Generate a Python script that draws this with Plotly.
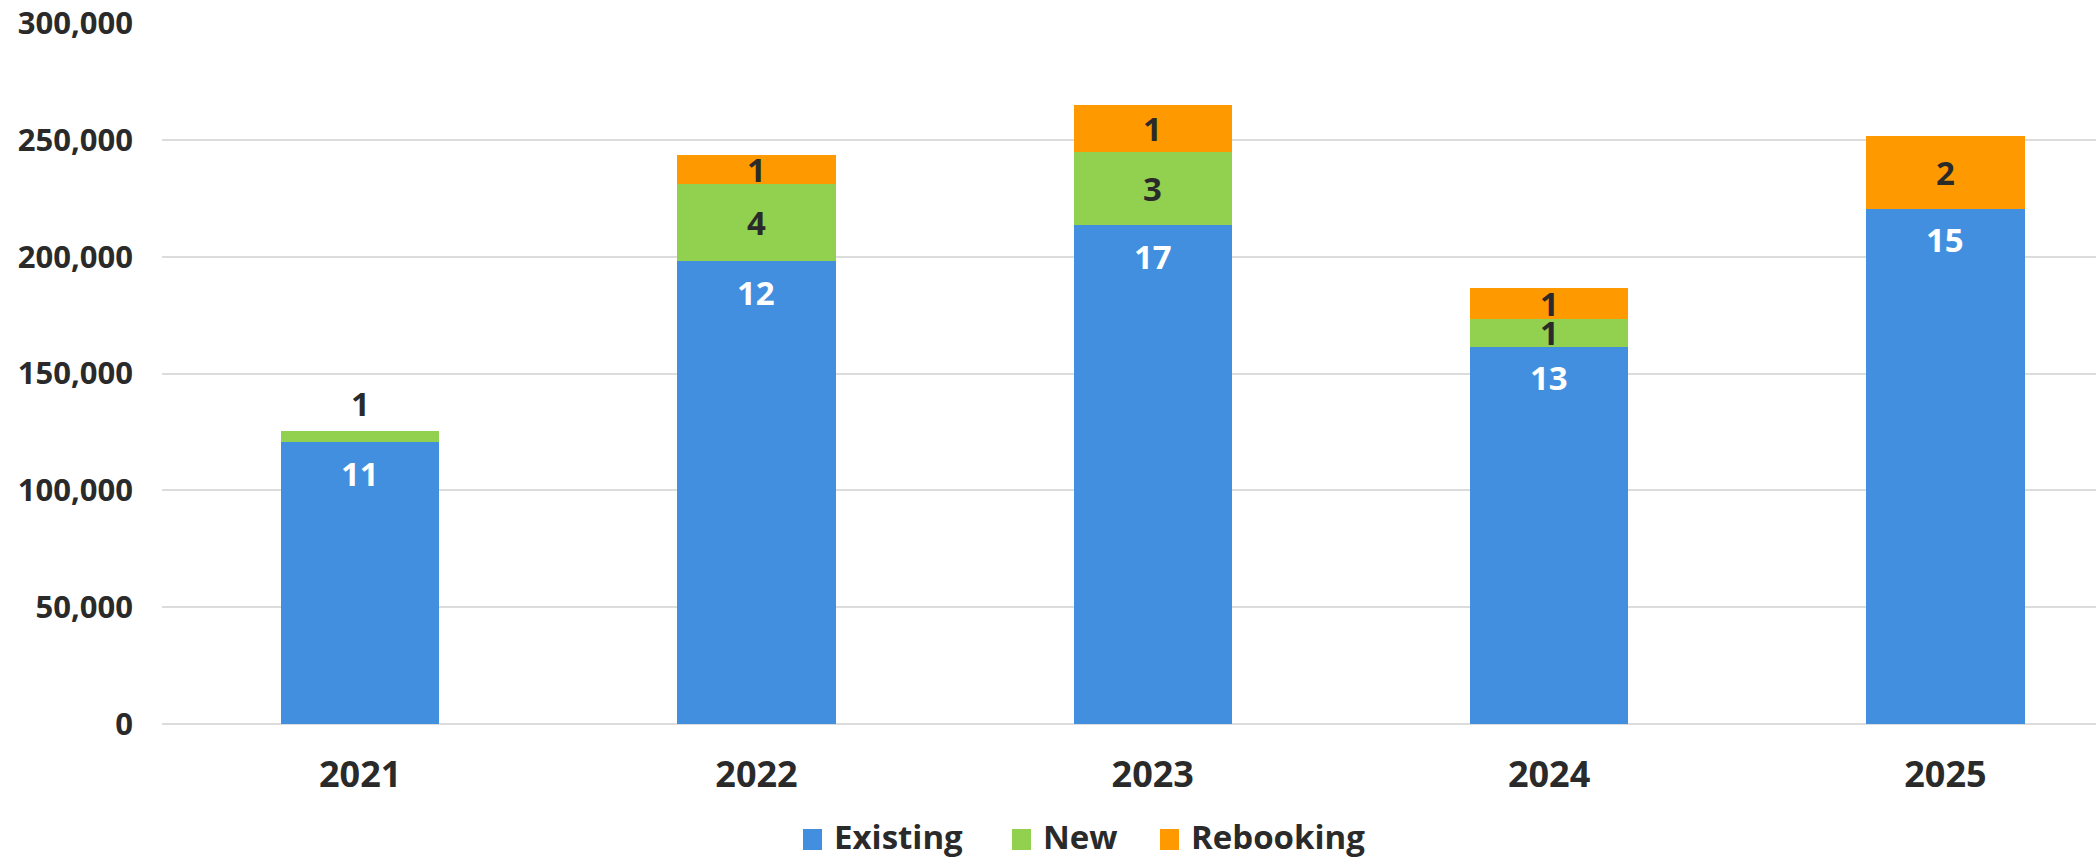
import plotly.graph_objects as go

# Bookings value per year, split by customer type
years = ["2021", "2022", "2023", "2024", "2025"]
existing = [120500, 198000, 213500, 161500, 220500]
new = [5000, 33000, 31500, 12000, 0]
rebooking = [0, 12500, 20000, 13000, 31000]

# Number of deals behind each segment (shown as segment labels)
existing_count = [11, 12, 17, 13, 15]
new_count = [1, 4, 3, 1, None]
rebooking_count = [None, 1, 1, 1, 2]

series_names = ["Existing", "New", "Rebooking"]
series_colors = ["#418FDE", "#92D050", "#FF9900"]

y_ticks = list(range(0, 300001, 50000))

FONT = "Open Sans"
TEXT_DARK = "#2A2A2A"

W, H = 2096, 860
M_L, M_R, M_T, M_B = 162, 0, 23, 136
PLOT_W = W - M_L - M_R
PLOT_H = H - M_T - M_B

fig = go.Figure()
for name, vals, color in zip(series_names, [existing, new, rebooking], series_colors):
    fig.add_trace(go.Bar(
        x=years, y=vals, name=name, width=0.4,
        marker=dict(color=color, line=dict(width=0)),
        showlegend=False,
    ))

annotations = []
label_font_w = dict(family=FONT, size=33, color="white", weight="bold")
label_font_d = dict(family=FONT, size=33, color=TEXT_DARK, weight="bold")

for i, yr in enumerate(years):
    # category axis: annotations are positioned by category index
    base = 0
    annotations.append(dict(
        x=i, y=existing[i], text=str(existing_count[i]), showarrow=False,
        yshift=-31, font=label_font_w, xanchor="center", yanchor="middle",
    ))
    base += existing[i]
    segs = [(new[i], new_count[i]), (rebooking[i], rebooking_count[i])]
    nonzero = [k for k, (v, _) in enumerate(segs) if v > 0]
    top_idx = max(nonzero) if nonzero else None
    for k, (v, n) in enumerate(segs):
        if v > 0 and n is not None:
            if v < 8000 and k == top_idx:
                # segment too thin: label sits just above the bar
                annotations.append(dict(
                    x=i, y=base + v, text=str(n), showarrow=False, yshift=27,
                    font=label_font_d, xanchor="center", yanchor="middle",
                ))
            else:
                annotations.append(dict(
                    x=i, y=base + v / 2, text=str(n), showarrow=False,
                    font=label_font_d, xanchor="center", yanchor="middle",
                ))
        base += v

# Legend drawn below the axis
def px_x(px):
    return (px - M_L) / PLOT_W

def px_y(py):
    return (H - M_B - py) / PLOT_H

legend_items = list(zip(series_names, series_colors, [803, 1012, 1160]))
shapes = []
for name, color, sx in legend_items:
    shapes.append(dict(
        type="rect", xref="paper", yref="paper",
        x0=px_x(sx), x1=px_x(sx + 19), y0=px_y(850), y1=px_y(829),
        fillcolor=color, line=dict(width=0),
    ))
    annotations.append(dict(
        xref="paper", yref="paper", x=px_x(sx + 29), y=px_y(836),
        text=name, showarrow=False, xanchor="left", yanchor="middle",
        font=dict(family=FONT, size=33, color=TEXT_DARK, weight="bold"),
    ))

fig.update_layout(
    width=W, height=H,
    margin=dict(l=M_L, r=M_R, t=M_T, b=M_B, pad=0),
    barmode="stack",
    plot_bgcolor="white", paper_bgcolor="white",
    annotations=annotations, shapes=shapes,
    showlegend=False,
)
fig.update_xaxes(
    type="category", range=[-0.5, 4.38],
    showgrid=False, showline=False, zeroline=False, ticks="",
    tickfont=dict(family=FONT, size=36, color=TEXT_DARK, weight="bold"),
    ticklabelstandoff=26,
)
fig.update_yaxes(
    range=[0, 300000], tickvals=y_ticks, tickformat=",",
    showgrid=True, gridcolor="#DCDCDC", gridwidth=2,
    zeroline=True, zerolinecolor="#DCDCDC", zerolinewidth=2,
    showline=False, ticks="",
    tickfont=dict(family=FONT, size=31, color=TEXT_DARK, weight="bold"),
    ticklabelstandoff=28,
)

fig.write_html("out.html")
